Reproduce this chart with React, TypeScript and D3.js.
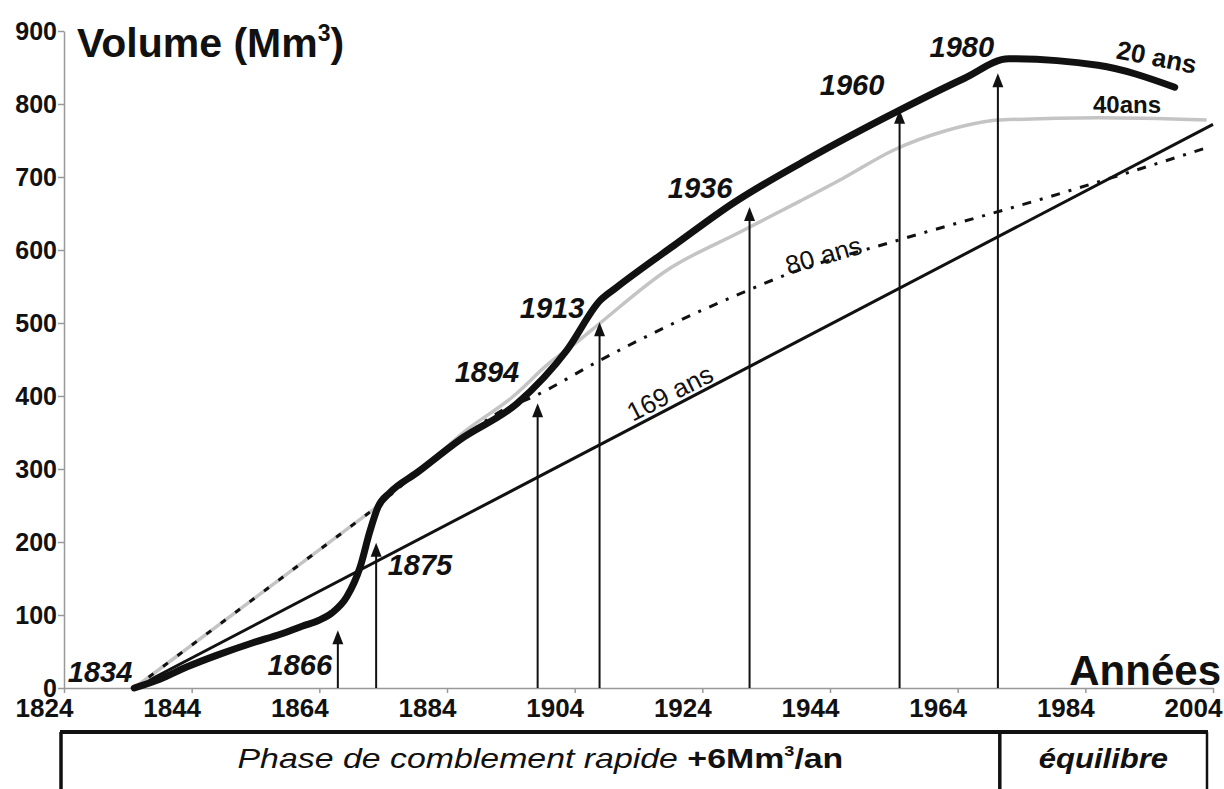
import React, { useRef, useEffect } from "react";
import * as d3 from "d3";

// thick black curve (20 ans)
const years20 = [1835, 1839, 1843.3, 1848, 1853.6, 1858, 1861.4, 1864, 1866, 1868.3, 1870.4, 1871.9, 1873.2, 1875.1, 1879.3, 1886, 1895, 1902.8, 1908, 1910.6, 1920, 1928.8, 1940, 1955, 1965, 1972, 1986, 1998];
const vol20 = [0, 12, 29, 45, 62, 74, 85, 93, 103, 125, 166, 214, 248, 268, 295, 340, 390, 463, 531, 549, 609, 664, 722, 792, 835, 862, 853, 823];

// grey curve (40 ans)
const years40 = [1873, 1875.1, 1879.3, 1887, 1894.3, 1900, 1904.8, 1908, 1918.4, 1930, 1939.3, 1946, 1954, 1962, 1970.6, 1986, 2003];
const vol40 = [248, 268, 295, 353, 399, 445, 477, 500, 572, 625, 667, 698, 737, 763, 778, 781, 778];

// dashed curve (80 ans)
const years80 = [1873, 1879.3, 1886, 1893, 1897.5, 1908, 1918.4, 1928.8, 1937.7, 1954.9, 1978.4, 2003];
const vol80 = [248, 295, 340, 382, 399, 449, 495, 536, 568, 614, 673, 740];

// initial straight trend shared by 40 / 80 ans
const yearsStart = [1835, 1873];
const volStart = [0, 248];

// straight line (169 ans)
const years169 = [1835, 2004];
const vol169 = [0, 772];

// vertical arrows
const arrowYears = [1866.9, 1872.9, 1898.2, 1907.9, 1931.4, 1954.9, 1970.3];
const arrowTops = [79, 199, 390, 501, 659, 792, 842];

const xTicks = [1824, 1844, 1864, 1884, 1904, 1924, 1944, 1964, 1984, 2004];
const yTicks = [0, 100, 200, 300, 400, 500, 600, 700, 800, 900];

const FONT = "'Liberation Sans', Arial, Helvetica, sans-serif";

const App = () => {
    const svgRef = useRef(null);

    useEffect(() => {
        const width = 1224;
        const height = 789;

        const svg = d3.select(svgRef.current).attr("width", width).attr("height", height);
        svg.selectAll("*").remove();

        const x = d3.scaleLinear().domain([1824, 2004]).range([64, 1213]);
        const y = d3.scaleLinear().domain([0, 900]).range([688, 31]);

        // axes
        const yAxis = svg.append("g").attr("transform", `translate(${x(1824)},0)`)
            .call(d3.axisLeft(y).tickValues(yTicks).tickSize(6).tickSizeOuter(0));
        yAxis.select(".domain").attr("stroke", "#999").attr("stroke-width", 1.5);
        yAxis.selectAll(".tick line").attr("stroke", "#999").attr("stroke-width", 1.5);
        yAxis.selectAll(".tick text")
            .attr("font-family", FONT).attr("font-size", 25).attr("font-weight", "bold")
            .attr("fill", "#111").attr("x", -7);

        // x labels sit ~20px left of their ticks in the original
        const xAxis = svg.append("g").attr("transform", `translate(0,${y(0)})`)
            .call(d3.axisBottom(x).tickValues(xTicks).tickFormat(d3.format("d")).tickSize(5).tickSizeOuter(0));
        xAxis.select(".domain").attr("stroke", "#999").attr("stroke-width", 1.5);
        xAxis.selectAll(".tick line").attr("stroke", "#999").attr("stroke-width", 1.5);
        xAxis.selectAll(".tick text")
            .attr("font-family", FONT).attr("font-size", 26).attr("font-weight", "bold")
            .attr("fill", "#111").attr("y", 11).attr("x", -20);

        const line = d3.line<[number, number]>()
            .x((d) => x(d[0]))
            .y((d) => y(d[1]))
            .curve(d3.curveMonotoneX);
        const zip = (a: number[], b: number[]) => a.map((v, i) => [v, b[i]] as [number, number]);

        // 169 ans
        svg.append("path").attr("d", line(zip(years169, vol169)))
            .attr("fill", "none").attr("stroke", "#111").attr("stroke-width", 3);

        // grey start + 40 ans
        svg.append("path").attr("d", line(zip(yearsStart, volStart)))
            .attr("fill", "none").attr("stroke", "#c4c4c4").attr("stroke-width", 3.5);
        svg.append("path").attr("d", line(zip(years40, vol40)))
            .attr("fill", "none").attr("stroke", "#c4c4c4").attr("stroke-width", 3.5);

        // dashed start + 80 ans
        svg.append("path").attr("d", line(zip(yearsStart, volStart)))
            .attr("fill", "none").attr("stroke", "#111").attr("stroke-width", 3)
            .attr("stroke-dasharray", "6,12");
        svg.append("path").attr("d", line(zip(years80, vol80)))
            .attr("fill", "none").attr("stroke", "#111").attr("stroke-width", 3)
            .attr("stroke-dasharray", "9,9,3,9");

        // arrows
        arrowYears.forEach((yr, i) => {
            const ax = x(yr);
            const ty = y(arrowTops[i]);
            svg.append("line").attr("x1", ax).attr("x2", ax).attr("y1", y(0)).attr("y2", ty + 8)
                .attr("stroke", "#111").attr("stroke-width", 2);
            svg.append("path")
                .attr("d", `M${ax},${ty} L${ax - 5.5},${ty + 14} L${ax + 5.5},${ty + 14} Z`)
                .attr("fill", "#111");
        });

        // 20 ans thick curve
        svg.append("path").attr("d", line(zip(years20, vol20)))
            .attr("fill", "none").attr("stroke", "#111").attr("stroke-width", 7)
            .attr("stroke-linecap", "round").attr("stroke-linejoin", "round");

        // year labels
        const yearLabels: [string, number, number, string][] = [
            ["1834", 1824.6, 8, "start"],
            ["1866", 1866, 18, "end"],
            ["1875", 1874.7, 155, "start"],
            ["1894", 1885.2, 419, "start"],
            ["1913", 1895.4, 507, "start"],
            ["1936", 1918.6, 671, "start"],
            ["1960", 1942.4, 812, "start"],
            ["1980", 1959.6, 864, "start"],
        ];
        yearLabels.forEach(([t, yr, v, anchor]) => {
            svg.append("text").attr("x", x(yr)).attr("y", y(v))
                .attr("text-anchor", anchor)
                .attr("font-family", FONT).attr("font-size", 29)
                .attr("font-weight", "bold").attr("font-style", "italic")
                .attr("fill", "#111").text(t);
        });

        // curve labels
        const curveText = (t: string, cx: number, cy: number, angle: number, size: number, bold: boolean) => {
            svg.append("text")
                .attr("transform", `translate(${cx},${cy}) rotate(${angle})`)
                .attr("text-anchor", "middle")
                .attr("font-family", FONT).attr("font-size", size)
                .attr("font-weight", bold ? "bold" : "normal")
                .attr("fill", "#111").text(t);
        };
        curveText("20 ans", 1155, 66, 11, 26, true);
        curveText("40ans", 1127, 113, 0, 24, true);
        curveText("80 ans", 826, 264, -16, 26, false);
        curveText("169 ans", 674, 401, -27, 26, false);

        // title
        const title = svg.append("text").attr("x", 77).attr("y", 57)
            .attr("font-family", FONT).attr("font-size", 41).attr("font-weight", "bold").attr("fill", "#111");
        title.append("tspan").text("Volume (Mm");
        title.append("tspan").attr("font-size", 23).attr("dy", -16).text("3");
        title.append("tspan").attr("dy", 16).text(")");

        svg.append("text").attr("x", 1221).attr("y", 685).attr("text-anchor", "end")
            .attr("font-family", FONT).attr("font-size", 42).attr("font-weight", "bold")
            .attr("fill", "#111").text("Années");

        // phase box
        const boxTop = 732;
        const xL = 61, xD = x(1970.6), xR = 1207;
        svg.append("line").attr("x1", xL - 1).attr("x2", xR + 1).attr("y1", boxTop).attr("y2", boxTop)
            .attr("stroke", "#111").attr("stroke-width", 4);
        svg.append("line").attr("x1", xL).attr("x2", xL).attr("y1", boxTop).attr("y2", height)
            .attr("stroke", "#111").attr("stroke-width", 3.5);
        svg.append("line").attr("x1", xD).attr("x2", xD).attr("y1", boxTop).attr("y2", height)
            .attr("stroke", "#111").attr("stroke-width", 3.5);
        svg.append("line").attr("x1", xR).attr("x2", xR).attr("y1", boxTop).attr("y2", height)
            .attr("stroke", "#111").attr("stroke-width", 2.5);

        const phase = svg.append("text")
            .attr("transform", `translate(${(xL + xD) / 2 + 10},768) scale(1.21,1)`)
            .attr("text-anchor", "middle")
            .attr("font-family", FONT).attr("font-size", 28).attr("fill", "#111");
        phase.append("tspan").attr("font-style", "italic").text("Phase de comblement rapide ");
        phase.append("tspan").attr("font-weight", "bold").text("+6Mm");
        phase.append("tspan").attr("font-weight", "bold").attr("font-size", 15).attr("dy", -12).text("3");
        phase.append("tspan").attr("font-weight", "bold").attr("dy", 12).text("/an");

        svg.append("text")
            .attr("transform", `translate(${(xD + xR) / 2},768) scale(1.15,1)`)
            .attr("text-anchor", "middle")
            .attr("font-family", FONT).attr("font-size", 27)
            .attr("font-weight", "bold").attr("font-style", "italic")
            .attr("fill", "#111").text("équilibre");
    }, []);

    return (
        <svg ref={svgRef} style={{ position: "absolute", left: 0, top: 0, background: "#fff" }}></svg>
    );
};

export default App;
